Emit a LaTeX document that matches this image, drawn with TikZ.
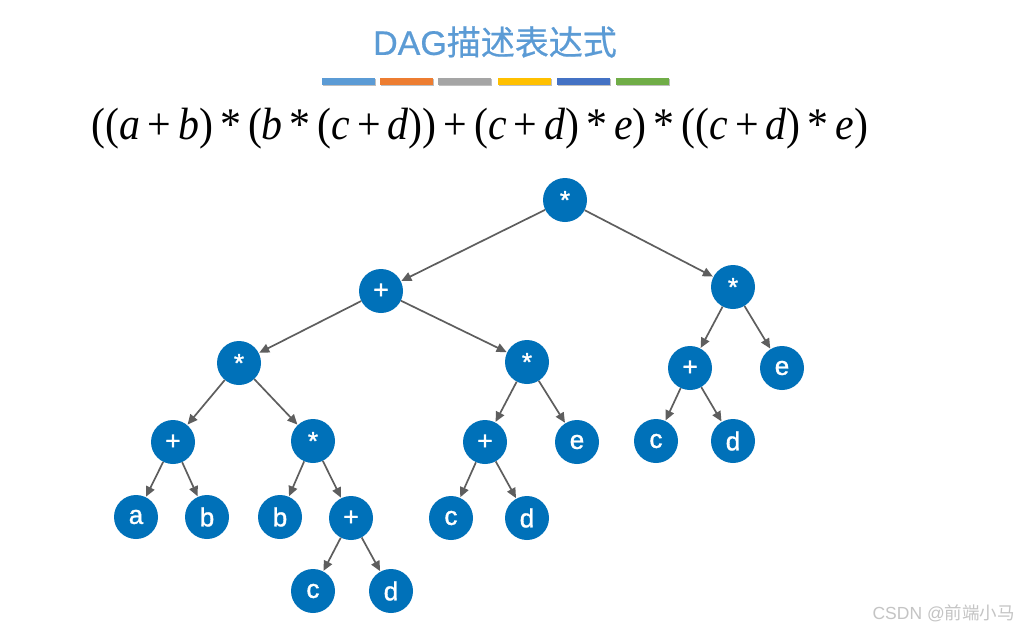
\documentclass[tikz,border=0pt]{standalone}
\usepackage{fontspec}
\usepackage{graphicx}
\setmainfont{Liberation Sans}
\newfontfamily\tms{Liberation Serif}
\newfontfamily\cjk{Noto Sans CJK SC}
\newfontfamily\ttl[FakeBold=0.6]{Liberation Sans}
\newfontfamily\cjkt[FakeBold=0.6]{Noto Sans CJK SC}
\newfontfamily\lbl[FakeBold=1.4]{Liberation Sans}
\usetikzlibrary{arrows.meta}
\definecolor{nodeblue}{HTML}{0071B9}
\definecolor{edgegray}{HTML}{5E5E5E}
\definecolor{titleblue}{HTML}{5B9BD5}
\definecolor{barA}{HTML}{5B9BD5}
\definecolor{barB}{HTML}{ED7D31}
\definecolor{barC}{HTML}{A5A5A5}
\definecolor{barD}{HTML}{FFC000}
\definecolor{barE}{HTML}{4472C4}
\definecolor{barF}{HTML}{70AD47}
\definecolor{wmgray}{HTML}{C4C4C4}
\tikzset{
  tnode/.style={circle, fill=nodeblue, minimum size=44pt, inner sep=0pt, text=white,
    font=\lbl\fontsize{26}{26}\selectfont},
  edge/.style={draw=edgegray, line width=1.7pt, -{Triangle[length=10pt,width=9pt]}, shorten >=0.5pt},
  colorbar/.style={minimum width=53pt, minimum height=7pt, inner sep=0pt}
}
\newcommand{\iv}[1]{\textit{#1}}
\newcommand{\pl}{\,+\,}
\newcommand{\st}{\,*\,}
\begin{document}
\begin{tikzpicture}[x=1pt,y=-1pt]
\useasboundingbox (0,0) rectangle (1024,632);
\fill[white] (0,0) rectangle (1024,632);
% title
\node[text=titleblue, font=\ttl\fontsize{34}{34}\selectfont, inner sep=0pt] (title) at (495,42) {DAG{\cjkt 描述表达式}};
% color bars
\foreach \c/\x [count=\i] in {barA/348, barB/406, barC/464.5, barD/524, barE/583, barF/642.5}{
  \fill[black!25] (\x-26.5+1,78+1.2) rectangle (\x+26.5+1,85+1.2);
  \node[colorbar, fill=\c] (bar\i) at (\x,81.5) {};
}
% formula
\node[inner sep=0pt] (formula) at (480,128.5) {\resizebox*{776pt}{41pt}{\tms ((\iv{a}\pl\iv{b})\st(\iv{b}\st(\iv{c}\pl\iv{d}))\pl(\iv{c}\pl\iv{d})\st\iv{e})\st((\iv{c}\pl\iv{d})\st\iv{e})}};
% nodes
\node[tnode] (r)   at (565,200) {*};
\node[tnode] (p1)  at (381,291) {+};
\node[tnode] (sR)  at (733,287) {*};
\node[tnode] (sL)  at (239,363) {*};
\node[tnode] (sM)  at (527,362) {*};
\node[tnode] (pR)  at (690,368) {+};
\node[tnode] (eR)  at (782,368) {e};
\node[tnode] (pLL) at (173,442) {+};
\node[tnode] (sLR) at (313,441) {*};
\node[tnode] (pM)  at (485,442) {+};
\node[tnode] (eM)  at (577,442) {e};
\node[tnode] (cR)  at (656,441) {c};
\node[tnode] (dR)  at (733,441) {d};
\node[tnode] (a)   at (136,517) {a};
\node[tnode] (b)   at (207,517) {b};
\node[tnode] (b2)  at (280,517) {b};
\node[tnode] (p2)  at (351,518) {+};
\node[tnode] (c2)  at (451,518) {c};
\node[tnode] (d2)  at (527,518) {d};
\node[tnode] (c3)  at (313,591) {c};
\node[tnode] (d3)  at (391,591) {d};
% edges
\foreach \s/\t in {r/p1, r/sR, p1/sL, p1/sM, sL/pLL, sL/sLR, pLL/a, pLL/b, sLR/b2, sLR/p2,
  p2/c3, p2/d3, sM/pM, sM/eM, pM/c2, pM/d2, sR/pR, sR/eR, pR/cR, pR/dR}
  \draw[edge] (\s) -- (\t);
% watermark
\node[anchor=east, text=wmgray, font=\fontsize{17.5}{17.5}\selectfont, inner sep=0pt] (wm) at (1015,613) {CSDN @{\cjk 前端小马}};
\end{tikzpicture}
\end{document}
